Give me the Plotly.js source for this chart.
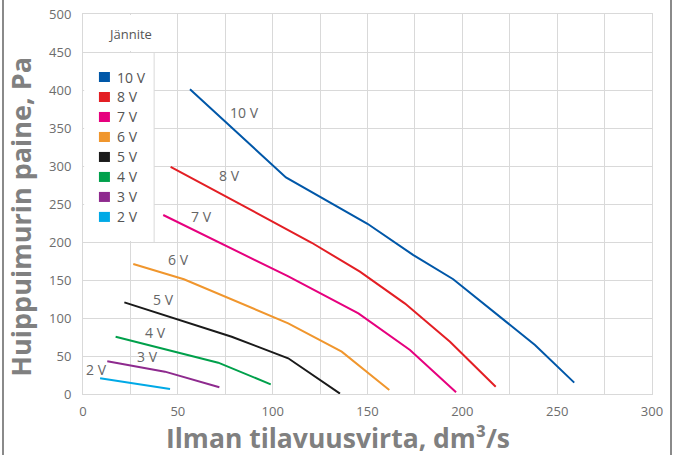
<!DOCTYPE html>
<html>
<head>
<meta charset="utf-8">
<script src="https://cdn.plot.ly/plotly-3.0.1.min.js"></script>
<style>
html,body{margin:0;padding:0;background:#fff;}
#chart{width:678px;height:455px;}
</style>
</head>
<body>
<div id="chart"></div>
<script>
// Series data
const voltages = ["10 V", "8 V", "7 V", "6 V", "5 V", "4 V", "3 V", "2 V"];
const colors = ["#0057a8", "#e31e24", "#e6007e", "#f0962d", "#1a1a1a", "#00a04b", "#8e2a8e", "#00a9e6"];

const x10 = [56.4, 107, 150, 174, 195.2, 238.3, 259];
const y10 = [401, 285, 224, 183, 151, 64.5, 15];
const x8 = [46.2, 107.4, 120.6, 146, 169.8, 193.5, 217.6];
const y8 = [299, 216.7, 199, 161, 119, 68.8, 9.6];
const x7 = [42.3, 108, 145.2, 172.4, 196.7];
const y7 = [235.5, 155, 106, 57.9, 2.2];
const x6 = [26.5, 53.2, 108.2, 136.4, 161.5];
const y6 = [171, 151, 93, 55.7, 5.3];
const x5 = [21.8, 50.3, 78.4, 108.2, 135.5];
const y5 = [120.6, 98, 75.4, 47, 0.5];
const x4 = [17.2, 71.3, 99];
const y4 = [75.4, 41.2, 12.7];
const x3 = [12.8, 43.2, 71.9];
const y3 = [43, 29.4, 8.8];
const x2 = [9, 45.9];
const y2 = [20.6, 6.6];

// Curve label positions (data coords)
const labelX = [85.4, 77, 62.6, 50.3, 42.3, 38, 34.1, 7.2];
const labelY = [370, 287, 234, 177, 124.6, 80.7, 50, 32.9];

const xTicks = [0, 50, 100, 150, 200, 250, 300];
const yTicks = [0, 50, 100, 150, 200, 250, 300, 350, 400, 450, 500];

const legendTitle = "Jännite";
const xTitle = "Ilman tilavuusvirta, dm³/s";
const yTitle = "Huippuimurin paine, Pa";

const xs = [x10, x8, x7, x6, x5, x4, x3, x2];
const ys = [y10, y8, y7, y6, y5, y4, y3, y2];

const FONT = "Open Sans, Noto Sans, sans-serif";
const GRID = "#d9d9d9";
const TITLEFONT = {family: FONT, size: 27, color: "#808080", weight: "bold"};

const traces = voltages.map((v, i) => ({
  type: "scatter", mode: "lines", name: v,
  x: xs[i], y: ys[i],
  line: {color: colors[i], width: 2},
  hoverinfo: "skip", showlegend: false
}));

const annotations = [];
voltages.forEach((v, i) => {
  annotations.push({
    x: labelX[i], y: labelY[i], xref: "x", yref: "y", text: v, showarrow: false,
    font: {family: FONT, size: 14, color: "#666666"}
  });
});

// axis titles (placed as in the reference, offset from the plot centre)
annotations.push({x: 0.448, y: -0.1163, xref: "paper", yref: "paper", xanchor: "center", yanchor: "middle",
  text: xTitle, showarrow: false, font: {family: FONT, size: 26.5, color: "#808080", weight: "bold"}});
annotations.push({x: -0.1105, y: 0.467, xref: "paper", yref: "paper", xanchor: "center", yanchor: "middle",
  text: yTitle, textangle: -90, showarrow: false, font: TITLEFONT});

// legend made with shapes + annotations
const shapes = [];
shapes.push({type: "rect", xref: "x", yref: "y", x0: 0.6, x1: 48.6, y0: 451.3, y1: 498.8,
  fillcolor: "#ffffff", line: {width: 0}, layer: "above"});
shapes.push({type: "rect", xref: "x", yref: "y", x0: 0.6, x1: 37.5, y0: 201.3, y1: 448.7,
  fillcolor: "#ffffff", line: {width: 0}, layer: "above"});
shapes.push({type: "line", xref: "x", yref: "y", x0: 37.5, x1: 37.5, y0: 200, y1: 450,
  line: {color: GRID, width: 1}, layer: "above"});

annotations.push({x: 25, y: 473.7, xref: "x", yref: "y", text: legendTitle, showarrow: false,
  font: {family: FONT, size: 13, color: "#555555"}});

voltages.forEach((v, i) => {
  const yc = 417.1 - 26.3 * i;
  shapes.push({type: "rect", xref: "x", yref: "y", x0: 8.4, x1: 14.2, y0: yc - 6.6, y1: yc + 6.6,
    fillcolor: colors[i], line: {width: 0}, layer: "above"});
  annotations.push({x: 16.9, y: yc, xref: "x", yref: "y", xanchor: "left", text: v, showarrow: false,
    font: {family: FONT, size: 14, color: "#555555"}});
});

// outer frame lines (left and right)
shapes.push({type: "line", xref: "paper", yref: "paper", x0: -0.1406, x1: -0.1406, y0: -0.2, y1: 1.05,
  line: {color: "#8a8a8a", width: 2}, layer: "above"});
shapes.push({type: "line", xref: "paper", yref: "paper", x0: 1.0334, x1: 1.0334, y0: -0.2, y1: 1.05,
  line: {color: "#8a8a8a", width: 2}, layer: "above"});

const layout = {
  width: 678, height: 455,
  margin: {l: 83, r: 26, t: 14, b: 61},
  paper_bgcolor: "#ffffff", plot_bgcolor: "#ffffff",
  showlegend: false,
  font: {family: FONT, color: "#6d6d6d", size: 13},
  xaxis: {
    range: [0, 300], tickvals: xTicks, ticktext: xTicks.map(String),
    showgrid: true, gridcolor: GRID, gridwidth: 1,
    minor: {dtick: 25, tick0: 0, showgrid: true, gridcolor: GRID, gridwidth: 1},
    showline: true, linecolor: GRID, linewidth: 1, mirror: true,
    zeroline: false, ticks: "", ticklabelstandoff: 5,
    tickfont: {family: FONT, size: 13, color: "#6d6d6d"}
  },
  yaxis: {
    range: [0, 500], tickvals: yTicks, ticktext: yTicks.map(String),
    showgrid: true, gridcolor: GRID, gridwidth: 1,
    showline: true, linecolor: GRID, linewidth: 1, mirror: true,
    zeroline: false, ticks: "", ticklabelstandoff: 8,
    tickfont: {family: FONT, size: 13, color: "#6d6d6d"}
  },
  shapes: shapes,
  annotations: annotations
};

Plotly.newPlot("chart", traces, layout, {displayModeBar: false, staticPlot: true});
</script>
</body>
</html>
